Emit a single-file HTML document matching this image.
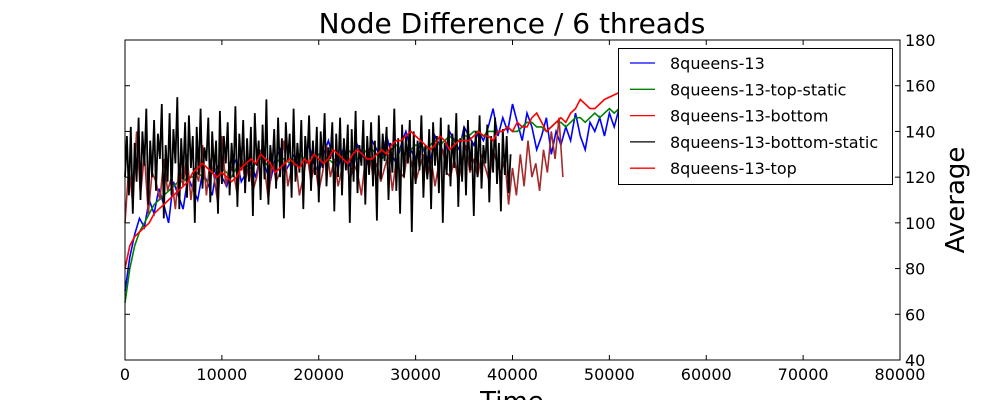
<!DOCTYPE html>
<html><head><meta charset="utf-8"><style>
body{margin:0;background:#fff;}
svg{display:block;font-family:"DejaVu Sans","Liberation Sans",sans-serif;}
</style></head><body>
<svg id="chart" width="1000" height="400">
<text x="512" y="33" text-anchor="middle" font-size="28">Node Difference / 6 threads</text>
<g id="plot"></g>
<g id="axes"></g>
<text x="512" y="410" text-anchor="middle" font-size="26">Time</text>
<text transform="translate(964,200) rotate(-90)" text-anchor="middle" font-size="26">Average</text>
<g id="legend"></g>
</svg>
<script>
const xTicks=[0,10000,20000,30000,40000,50000,60000,70000,80000];
const yTicks=[40,60,80,100,120,140,160,180];
const seriesNames=["8queens-13","8queens-13-top-static","8queens-13-bottom","8queens-13-bottom-static","8queens-13-top"];
const blueVals=[70,85,95,102,98,110,104,115,108,100,118,112,106,120,115,110,122,118,112,125,120,116,124,128,118,122,126,120,130,124,118,128,132,122,126,130,124,128,134,126,122,130,136,128,124,132,128,122,134,130,126,136,132,128,138,130,126,134,140,132,128,136,130,126,138,134,130,140,136,132,142,138,134,140,136,142,150,138,146,140,152,144,136,148,142,132,138,146,130,140,134,142,136,148,138,132,144,140,146,138,148,142,150];
const greenVals=[65,80,90,96,100,104,108,110,112,114,116,118,118,120,120,122,120,118,122,124,124,122,120,124,126,125,124,126,128,126,124,126,128,128,126,128,130,128,126,128,130,130,128,126,128,130,132,130,128,130,132,132,130,128,130,132,134,132,130,132,134,134,132,134,136,134,136,138,136,136,138,138,140,140,138,140,140,140,140,142,140,140,142,144,144,142,142,140,142,144,144,142,144,146,146,144,146,148,146,148,150,148,150];
const brownVals=[100,125,108,140,112,130,104,122,118,110,128,114,120,106,126,116,130,110,124,118,134,112,128,120,108,138,116,126,122,112,130,118,126,114,120,132,124,110,128,118,122,136,116,124,128,112,120,130,118,126,114,122,134,120,128,116,124,130,118,126,122,112,128,132,120,126,118,124,130,114,128,122,120,132,126,118,124,130,120,128,116,126,132,122,120,128,118,126,134,122,128,120,130,124,118,132,126,122,128,108,124,112,130,116,136,120,126,114,132,122,140,128,146,120];
const blackVals=[120,138,112,142,104,135,118,146,110,140,125,150,108,136,120,145,114,139,128,152,102,134,118,148,112,141,126,155,106,137,119,144,111,147,124,138,100,142,121,150,115,133,127,146,109,140,122,136,104,149,117,138,126,144,112,135,120,151,107,139,123,145,113,137,118,142,103,148,125,136,110,143,119,154,108,134,124,141,115,146,120,137,102,144,127,139,111,150,118,135,122,145,106,138,126,147,114,136,121,142,109,140,124,148,116,133,128,144,105,139,120,146,112,137,123,143,100,141,118,149,113,134,125,145,108,138,121,144,116,136,101,147,119,139,127,142,110,135,122,150,114,137,104,143,120,138,126,145,96,140,117,136,123,147,111,134,119,141,106,144,125,138,113,146,100,135,121,143,116,139,124,148,107,137,118,142,112,145,123,136,103,140,120,147,115,134,126,143,109,138,122,146,117,135,105,141,121,138,113,130];
const redVals=[80,90,94,96,98,100,104,106,108,110,112,114,116,118,122,124,126,124,122,120,122,120,118,120,124,126,128,126,130,128,126,122,124,126,128,126,124,128,126,130,128,126,128,132,130,128,126,130,132,130,128,128,130,132,130,134,136,136,138,140,138,136,134,132,134,138,136,132,134,136,136,136,138,140,138,138,136,140,140,142,140,144,142,142,146,148,144,140,142,144,146,144,148,150,154,152,150,150,152,154,155,156,157];
const series=[
 {vals:blueVals,step:500,color:"#0000ff",name:"series-8queens-13",w:1.6},
 {vals:greenVals,step:500,color:"#008000",name:"series-top-static",w:1.6},
 {vals:brownVals,step:400,color:"#a52a2a",name:"series-bottom",w:1.6},
 {vals:blackVals,step:200,color:"#000000",name:"series-bottom-static",w:1.8},
 {vals:redVals,step:500,color:"#ff0000",name:"series-top",w:1.6}];
const legendColors=["#0000ff","#008000","#ff0000","#000000","#ff0000"];
const L=125,R=900,T=40,B=360;
const xs=t=>L+t/80000*(R-L);
const ys=v=>B-(v-40)/140*(B-T);
const NS="http://www.w3.org/2000/svg";
const plot=document.getElementById('plot');
series.forEach(s=>{
 const p=document.createElementNS(NS,'polyline');
 p.setAttribute('points',s.vals.map((v,i)=>xs(i*s.step).toFixed(1)+','+ys(v).toFixed(1)).join(' '));
 p.setAttribute('fill','none');p.setAttribute('stroke',s.color);p.setAttribute('stroke-width',s.w);
 
 
 plot.appendChild(p);
});
const axes=document.getElementById('axes');
let h=`<rect x="${L}" y="${T}" width="${R-L}" height="${B-T}" fill="none" stroke="#000" stroke-width="1"/>`;
xTicks.forEach(t=>{const x=xs(t);
 h+=`<line x1="${x}" y1="${B}" x2="${x}" y2="${B-5}" stroke="#000"/><line x1="${x}" y1="${T}" x2="${x}" y2="${T+5}" stroke="#000"/>`;
 h+=`<text x="${x}" y="${B+20}" text-anchor="middle" font-size="16">${t}</text>`;});
yTicks.forEach(v=>{const y=ys(v);
 h+=`<line x1="${R}" y1="${y}" x2="${R-5}" y2="${y}" stroke="#000"/><line x1="${L}" y1="${y}" x2="${L+5}" y2="${y}" stroke="#000"/>`;
 h+=`<text x="${R+5}" y="${y+6}" font-size="16">${v}</text>`;});
axes.innerHTML=h;
const leg=document.getElementById('legend');
let g=`<rect x="618.5" y="48.5" width="274" height="136" fill="#fff" stroke="#000"/>`;
seriesNames.forEach((n,i)=>{const y=63+i*26.3;
 g+=`<g><line x1="630" y1="${y}" x2="655" y2="${y}" stroke="${legendColors[i]}" stroke-width="1.3"/><text x="670" y="${y+6}" font-size="16">${n}</text></g>`;});
leg.innerHTML=g;
</script>
</body></html>
